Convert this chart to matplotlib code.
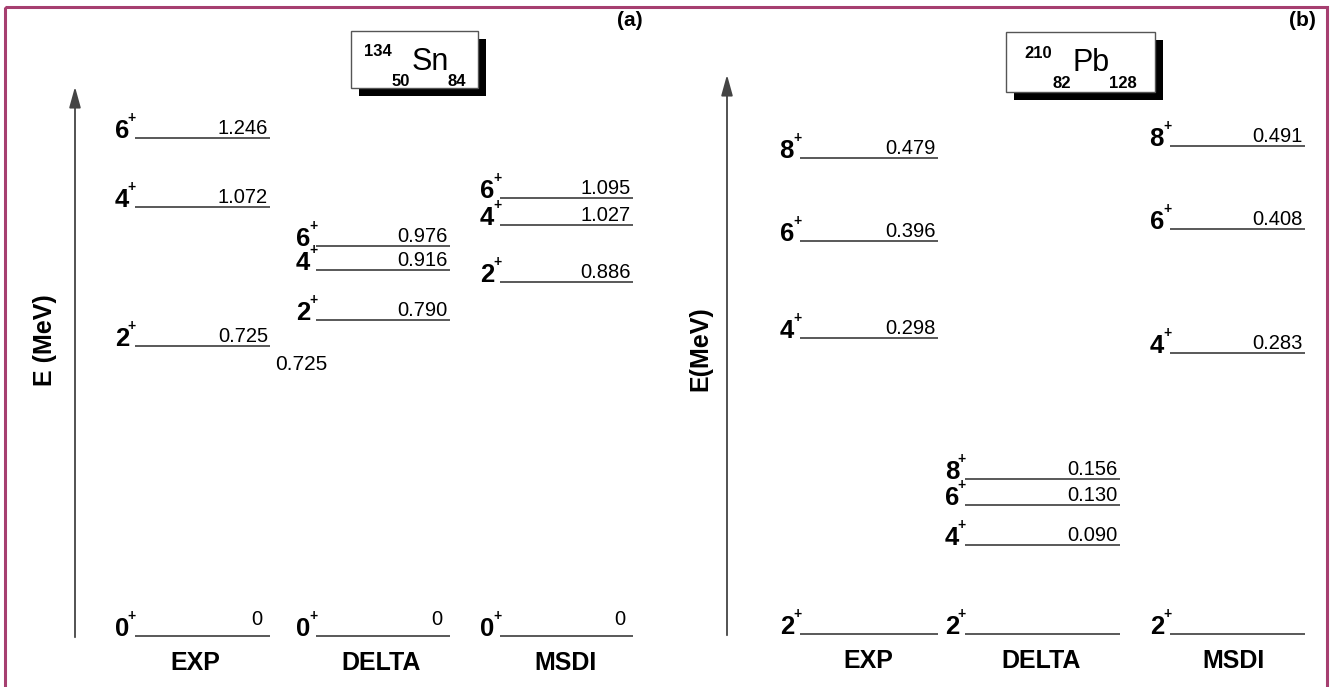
import matplotlib
matplotlib.use("Agg")
import matplotlib.pyplot as plt
from matplotlib.patches import Rectangle

plt.rcParams['font.family'] = ['Liberation Sans', 'DejaVu Sans']

W, H = 1334, 687

# (a) 134Sn levels, MeV
sn_models = ["EXP", "DELTA", "MSDI"]
sn_spins = [[0, 2, 4, 6], [0, 2, 4, 6], [0, 2, 4, 6]]
sn_energy = [[0.0, 0.725, 1.072, 1.246],
             [0.0, 0.790, 0.916, 0.976],
             [0.0, 0.886, 1.027, 1.095]]
sn_show = [[True] * 4] * 3

# (b) 210Pb levels, MeV (relative to the 2+ level)
pb_models = ["EXP", "DELTA", "MSDI"]
pb_spins = [[2, 4, 6, 8], [2, 4, 6, 8], [2, 4, 6, 8]]
pb_energy = [[0.0, 0.298, 0.396, 0.479],
             [0.0, 0.090, 0.130, 0.156],
             [0.0, 0.283, 0.408, 0.491]]
pb_show = [[False, True, True, True]] * 3

# layout (pixels)
sn_cols = [(135, 270), (316, 450), (500, 633)]
sn_lab_x = [195, 381, 566]
pb_cols = [(800, 938), (965, 1120), (1170, 1305)]
pb_lab_x = [868, 1041, 1234]

LINE = '#2b2b2b'
BORDER = '#a63f70'

fig = plt.figure(figsize=(W / 100, H / 100), dpi=100)

deco = fig.add_axes([0, 0, 1, 1])
deco.set_xlim(0, W)
deco.set_ylim(H, 0)
deco.axis('off')


def panel(zero_px, px_per_mev, models, spins, energy, show, cols, lab_x):
    ax = fig.add_axes([0, 0, 1, 1])
    ax.set_xlim(0, W)
    ax.set_ylim(-(H - zero_px) / px_per_mev, zero_px / px_per_mev)
    ax.axis('off')
    for m, name in enumerate(models):
        x0, x1 = cols[m]
        for s, e, sh in zip(spins[m], energy[m], show[m]):
            ax.hlines(e, x0, x1, color=LINE, lw=1.1)
            ax.annotate(str(s), xy=(x0, e), xytext=(-6, 0), textcoords='offset pixels',
                        ha='right', va='baseline', fontsize=18.5, fontweight='bold')
            ax.annotate('+', xy=(x0, e), xytext=(-3, 20), textcoords='offset pixels',
                        ha='center', va='center', fontsize=10, fontweight='bold')
            if sh:
                txt = '0' if e == 0 else f'{e:.3f}'
                dx, dy = (-8, 11) if e == 0 else (-2, 4)
                ax.annotate(txt, xy=(x1, e), xytext=(dx, dy), textcoords='offset pixels',
                            ha='right', va='baseline', fontsize=14.5)
        ax.annotate(name, xy=(lab_x[m], 0), xytext=(0, -27), textcoords='offset pixels',
                    ha='center', va='center', fontsize=18, fontweight='bold')
    return ax


panel(636, 400, sn_models, sn_spins, sn_energy, sn_show, sn_cols, sn_lab_x)
panel(634, 993, pb_models, pb_spins, pb_energy, pb_show, pb_cols, pb_lab_x)

# frame
deco.add_patch(Rectangle((5, 7), 1322, 700, fill=False, ec=BORDER, lw=2.2, clip_on=False))

# energy arrows
deco.annotate('', xy=(75, 84), xytext=(75, 640),
              arrowprops=dict(arrowstyle='-|>,head_width=0.25,head_length=0.9',
                              color='#444444', lw=1.3, mutation_scale=14))
deco.annotate('', xy=(727, 72), xytext=(727, 638),
              arrowprops=dict(arrowstyle='-|>,head_width=0.25,head_length=0.9',
                              color='#444444', lw=1.3, mutation_scale=14))
deco.text(45, 340, 'E (MeV)', rotation=90, ha='center', va='center', fontsize=18, fontweight='bold')
deco.text(700, 349, 'E(MeV)', rotation=90, ha='center', va='center', fontsize=18, fontweight='bold')

deco.text(275, 365, '0.725', ha='left', va='center', fontsize=15)

deco.text(630, 20, '(a)', ha='center', va='center', fontsize=15, fontweight='bold')
deco.text(1302, 20, '(b)', ha='center', va='center', fontsize=15, fontweight='bold')

# nucleus boxes
for (x, y, w, h), mass, sym, z, n, pos in [
        ((351, 31, 127, 57), '134', 'Sn', '50', '84',
         [(378, 52), (430, 62), (401, 81), (457, 81)]),
        ((1006, 32, 149, 60), '210', 'Pb', '82', '128',
         [(1038, 53), (1091, 63), (1062, 84), (1123, 84)])]:
    deco.add_patch(Rectangle((x + 8, y + 8), w, h, fc='black', ec='black', lw=0))
    deco.add_patch(Rectangle((x, y), w, h, fc='white', ec='#555555', lw=1.0))
    deco.text(*pos[0], mass, ha='center', va='center', fontsize=12, fontweight='bold')
    deco.text(*pos[1], sym, ha='center', va='center', fontsize=22, fontweight='medium')
    deco.text(*pos[2], z, ha='center', va='center', fontsize=12, fontweight='bold')
    deco.text(*pos[3], n, ha='center', va='center', fontsize=12, fontweight='bold')

fig.savefig('out.png', dpi=100)
